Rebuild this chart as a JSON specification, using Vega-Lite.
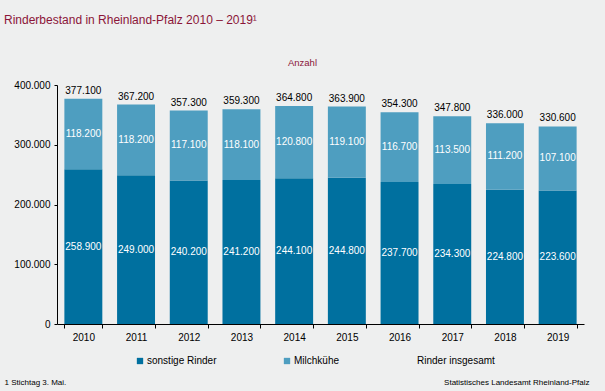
{
  "$schema": "https://vega.github.io/schema/vega-lite/v6.json",
  "autosize": "none",
  "width": 527,
  "height": 239,
  "padding": {"left": 57, "top": 85, "right": 21, "bottom": 67},
  "background": "#eeefef",
  "title": {
    "text": "Rinderbestand in Rheinland-Pfalz 2010 – 2019¹",
    "anchor": "start",
    "frame": "group",
    "dx": -53,
    "offset": 30,
    "fontSize": 12,
    "fontWeight": "normal",
    "font": "Liberation Sans",
    "color": "#8b1538"
  },
  "datasets": {
    "parts": [
      {"jahr": "2010", "serie": "sonstige Rinder", "wert": 258900},
      {"jahr": "2011", "serie": "sonstige Rinder", "wert": 249000},
      {"jahr": "2012", "serie": "sonstige Rinder", "wert": 240200},
      {"jahr": "2013", "serie": "sonstige Rinder", "wert": 241200},
      {"jahr": "2014", "serie": "sonstige Rinder", "wert": 244100},
      {"jahr": "2015", "serie": "sonstige Rinder", "wert": 244800},
      {"jahr": "2016", "serie": "sonstige Rinder", "wert": 237700},
      {"jahr": "2017", "serie": "sonstige Rinder", "wert": 234300},
      {"jahr": "2018", "serie": "sonstige Rinder", "wert": 224800},
      {"jahr": "2019", "serie": "sonstige Rinder", "wert": 223600},
      {"jahr": "2010", "serie": "Milchkühe", "wert": 118200},
      {"jahr": "2011", "serie": "Milchkühe", "wert": 118200},
      {"jahr": "2012", "serie": "Milchkühe", "wert": 117100},
      {"jahr": "2013", "serie": "Milchkühe", "wert": 118100},
      {"jahr": "2014", "serie": "Milchkühe", "wert": 120800},
      {"jahr": "2015", "serie": "Milchkühe", "wert": 119100},
      {"jahr": "2016", "serie": "Milchkühe", "wert": 116700},
      {"jahr": "2017", "serie": "Milchkühe", "wert": 113500},
      {"jahr": "2018", "serie": "Milchkühe", "wert": 111200},
      {"jahr": "2019", "serie": "Milchkühe", "wert": 107100}
    ],
    "totals": [
      {"jahr": "2010", "wert": 377100},
      {"jahr": "2011", "wert": 367200},
      {"jahr": "2012", "wert": 357300},
      {"jahr": "2013", "wert": 359300},
      {"jahr": "2014", "wert": 364800},
      {"jahr": "2015", "wert": 363900},
      {"jahr": "2016", "wert": 354300},
      {"jahr": "2017", "wert": 347800},
      {"jahr": "2018", "wert": 336000},
      {"jahr": "2019", "wert": 330600}
    ]
  },
  "config": {
    "locale": {"number": {"decimal": ",", "thousands": ".", "grouping": [3], "currency": ["", " €"]}},
    "font": "Liberation Sans",
    "view": {"stroke": null},
    "axis": {"grid": false, "domainColor": "#000000", "tickColor": "#000000", "labelColor": "#000000", "labelFont": "Liberation Sans", "labelFontSize": 10}
  },
  "resolve": {"axis": {"x": "independent"}},
  "layer": [
    {
      "data": {"name": "parts"},
      "mark": {"type": "bar"},
      "encoding": {
        "x": {
          "field": "jahr", "type": "ordinal",
          "scale": {"paddingInner": 0.28, "paddingOuter": 0.14},
          "axis": {
            "labelAngle": 0, "tickBand": "extent", "tickSize": 4, "labelPadding": 4,
            "title": "1 Stichtag 3. Mai.", "titleX": -53, "titleY": 58, "titleAlign": "left",
            "titleBaseline": "middle", "titleFontSize": 8, "titleFontWeight": "normal", "titleColor": "#000000"
          }
        },
        "y": {
          "field": "wert", "type": "quantitative", "stack": "zero",
          "scale": {"domain": [0, 400000]},
          "axis": {
            "values": [0, 100000, 200000, 300000, 400000], "format": ",d", "tickSize": 3, "labelPadding": 4,
            "title": "Anzahl", "titleAngle": 0, "titleX": 245, "titleY": -23, "titleAlign": "center",
            "titleBaseline": "middle", "titleFontSize": 9.5, "titleFontWeight": "normal", "titleColor": "#8b1538"
          }
        },
        "color": {
          "field": "serie", "type": "nominal",
          "scale": {"domain": ["sonstige Rinder", "Milchkühe", "Rinder insgesamt"], "range": ["#00709f", "#4e9ec0", "transparent"]},
          "legend": {
            "title": null, "orient": "none", "direction": "horizontal", "columns": 3,
            "legendX": 78, "legendY": 271, "symbolType": "square", "symbolSize": 40, "symbolStrokeWidth": 0,
            "labelFontSize": 10, "labelColor": "#000000", "labelOffset": 2, "columnPadding": 65
          }
        },
        "order": {"field": "serie", "sort": "descending"}
      }
    },
    {
      "data": {"name": "parts"},
      "transform": [
        {"stack": "wert", "groupby": ["jahr"], "sort": [{"field": "serie", "order": "descending"}], "as": ["w0", "w1"]},
        {"calculate": "(datum.w0 + datum.w1) / 2", "as": "mitte"}
      ],
      "mark": {"type": "text", "color": "#ffffff", "fontSize": 10, "baseline": "middle"},
      "encoding": {
        "x": {"field": "jahr", "type": "ordinal", "axis": null},
        "y": {"field": "mitte", "type": "quantitative"},
        "text": {"field": "wert", "type": "quantitative", "format": ",d"}
      }
    },
    {
      "data": {"name": "totals"},
      "mark": {"type": "text", "color": "#000000", "fontSize": 10, "baseline": "alphabetic", "dy": -5},
      "encoding": {
        "x": {
          "field": "jahr", "type": "ordinal",
          "axis": {
            "orient": "top", "labels": false, "ticks": false, "domain": false,
            "title": "Statistisches Landesamt Rheinland-Pfalz", "titleX": 532, "titleY": 297, "titleAlign": "right",
            "titleBaseline": "middle", "titleFontSize": 8, "titleFontWeight": "normal", "titleColor": "#000000"
          }
        },
        "y": {"field": "wert", "type": "quantitative"},
        "text": {"field": "wert", "type": "quantitative", "format": ",d"}
      }
    }
  ]
}
